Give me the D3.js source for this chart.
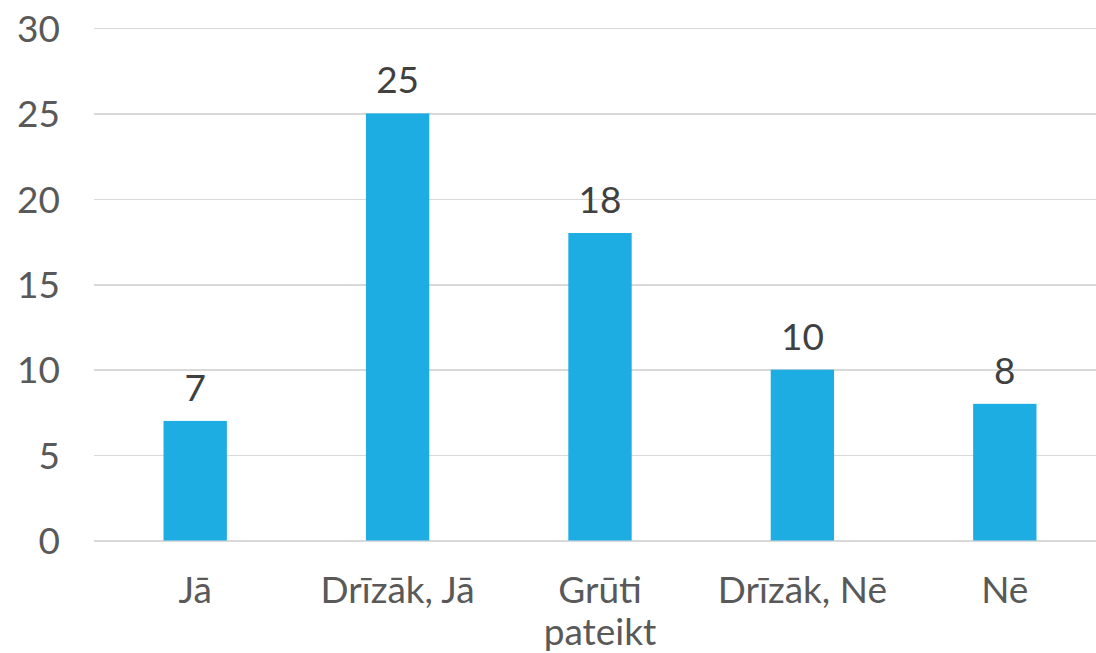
<!DOCTYPE html>
<html lang="lv">
<head>
  <meta charset="utf-8">
  <title>Bar chart</title>
  <script src="https://d3js.org/d3.v7.min.js"></script>
  <style>
    body { margin: 0; background: #ffffff; }
    svg text { font-family: "Lato", "Open Sans", sans-serif; }
    .grid line { stroke: #d9d9d9; stroke-width: 1.5; shape-rendering: crispEdges; }
    .grid path { display: none; }
    .y-axis text { fill: #595959; font-size: 37px; }
    .x-axis text { fill: #595959; font-size: 37px; }
    .bar { fill: #1eade3; }
    .value { fill: #404040; font-size: 37px; }
  </style>
</head>
<body>
  <div id="chart"></div>
  <script>
    // data
    var categories = ["Jā", "Drīzāk, Jā", "Grūti pateikt", "Drīzāk, Nē", "Nē"];
    var values = [7, 25, 18, 10, 8];
    var yTicks = [0, 5, 10, 15, 20, 25, 30];

    var W = 1096, H = 653;
    var mLeft = 94, mRight = 1106, mTop = 28, mBottom = 540.5;

    var svg = d3.select("#chart").append("svg")
      .attr("width", W)
      .attr("height", H);

    var x = d3.scaleBand()
      .domain(categories)
      .range([mLeft, mRight])
      .paddingInner(0.687)
      .paddingOuter(0.3435);

    var y = d3.scaleLinear()
      .domain([0, 30])
      .range([mBottom, mTop]);

    // gridlines
    svg.append("g")
      .attr("class", "grid")
      .attr("transform", "translate(" + mLeft + ",0)")
      .call(d3.axisRight(y).tickValues(yTicks).tickFormat("").tickSize(W - mLeft));

    // y labels
    var yAxis = svg.append("g")
      .attr("class", "y-axis")
      .attr("transform", "translate(60,0)")
      .call(d3.axisLeft(y).tickValues(yTicks).tickSize(0).tickPadding(0));
    yAxis.select(".domain").remove();
    yAxis.selectAll("text").attr("dy", "0.36em");

    // bars
    svg.selectAll("rect.bar")
      .data(values)
      .enter().append("rect")
      .attr("class", "bar")
      .attr("x", function (d, i) { return x(categories[i]); })
      .attr("width", x.bandwidth())
      .attr("y", function (d) { return y(d); })
      .attr("height", function (d) { return y(0) - y(d); });

    // value labels
    svg.selectAll("text.value")
      .data(values)
      .enter().append("text")
      .attr("class", "value")
      .attr("text-anchor", "middle")
      .attr("x", function (d, i) { return x(categories[i]) + x.bandwidth() / 2; })
      .attr("y", function (d) { return y(d) - 20; })
      .text(function (d) { return d; });

    // x labels (wrapped as in the original)
    var xAxis = svg.append("g")
      .attr("class", "x-axis")
      .attr("transform", "translate(0," + mBottom + ")")
      .call(d3.axisBottom(x).tickSize(0).tickFormat(""));
    xAxis.select(".domain").remove();

    var labelLines = {
      "Grūti pateikt": ["Grūti", "pateikt"]
    };
    xAxis.selectAll(".tick").append("text")
      .attr("text-anchor", "middle")
      .attr("y", 62)
      .each(function (d) {
        var lines = labelLines[d] || [d];
        var t = d3.select(this);
        lines.forEach(function (ln, k) {
          t.append("tspan").attr("x", 0).attr("dy", k === 0 ? 0 : 42).text(ln);
        });
      });
  </script>
</body>
</html>
